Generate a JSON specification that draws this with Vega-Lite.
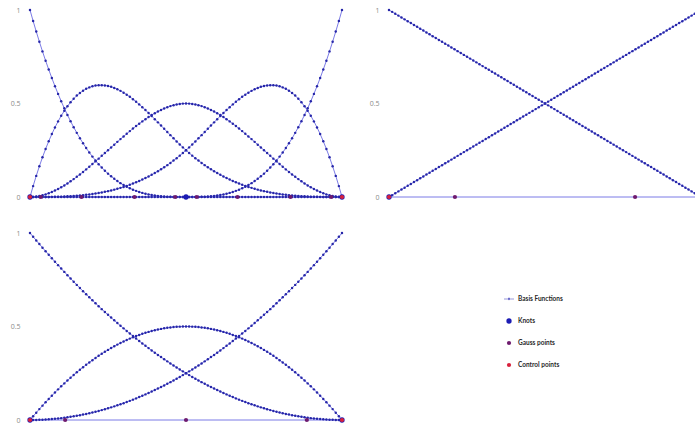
{
  "$schema": "https://vega.github.io/schema/vega-lite/v6.json",
  "padding": {"left": 10, "top": 6, "right": 0, "bottom": 0},
  "background": "white",
  "config": {
    "view": {"stroke": null},
    "axis": {"grid": false, "ticks": false, "domain": false, "title": null, "labelFont": "Open Sans", "labelFontSize": 7, "labelColor": "#8a8a8a", "labelPadding": 10}
  },
  "datasets": {
    "basis": [
      {"x":0,"a0":1,"a1":0,"a2":0,"a3":0,"a4":0,"b0":1,"b1":0,"c0":1,"c1":0,"c2":0},
      {"x":0.01,"a0":0.9412,"a1":0.0582,"a2":0.0006,"a3":0,"a4":0,"b0":0.99,"b1":0.01,"c0":0.9801,"c1":0.0198,"c2":0.0001},
      {"x":0.02,"a0":0.8847,"a1":0.1129,"a2":0.0023,"a3":0,"a4":0,"b0":0.98,"b1":0.02,"c0":0.9604,"c1":0.0392,"c2":0.0004},
      {"x":0.03,"a0":0.8306,"a1":0.1642,"a2":0.0052,"a3":0.0001,"a4":0,"b0":0.97,"b1":0.03,"c0":0.9409,"c1":0.0582,"c2":0.0009},
      {"x":0.04,"a0":0.7787,"a1":0.2121,"a2":0.0091,"a3":0.0001,"a4":0,"b0":0.96,"b1":0.04,"c0":0.9216,"c1":0.0768,"c2":0.0016},
      {"x":0.05,"a0":0.729,"a1":0.2568,"a2":0.014,"a3":0.0003,"a4":0,"b0":0.95,"b1":0.05,"c0":0.9025,"c1":0.095,"c2":0.0025},
      {"x":0.06,"a0":0.6815,"a1":0.2982,"a2":0.0199,"a3":0.0004,"a4":0,"b0":0.94,"b1":0.06,"c0":0.8836,"c1":0.1128,"c2":0.0036},
      {"x":0.07,"a0":0.6361,"a1":0.3366,"a2":0.0267,"a3":0.0007,"a4":0,"b0":0.93,"b1":0.07,"c0":0.8649,"c1":0.1302,"c2":0.0049},
      {"x":0.08,"a0":0.5927,"a1":0.372,"a2":0.0343,"a3":0.001,"a4":0,"b0":0.92,"b1":0.08,"c0":0.8464,"c1":0.1472,"c2":0.0064},
      {"x":0.09,"a0":0.5514,"a1":0.4044,"a2":0.0428,"a3":0.0015,"a4":0,"b0":0.91,"b1":0.09,"c0":0.8281,"c1":0.1638,"c2":0.0081},
      {"x":0.1,"a0":0.512,"a1":0.434,"a2":0.052,"a3":0.002,"a4":0,"b0":0.9,"b1":0.1,"c0":0.81,"c1":0.18,"c2":0.01},
      {"x":0.11,"a0":0.4746,"a1":0.4608,"a2":0.062,"a3":0.0027,"a4":0,"b0":0.89,"b1":0.11,"c0":0.7921,"c1":0.1958,"c2":0.0121},
      {"x":0.12,"a0":0.439,"a1":0.485,"a2":0.0726,"a3":0.0035,"a4":0,"b0":0.88,"b1":0.12,"c0":0.7744,"c1":0.2112,"c2":0.0144},
      {"x":0.13,"a0":0.4052,"a1":0.5066,"a2":0.0838,"a3":0.0044,"a4":0,"b0":0.87,"b1":0.13,"c0":0.7569,"c1":0.2262,"c2":0.0169},
      {"x":0.14,"a0":0.3732,"a1":0.5256,"a2":0.0956,"a3":0.0055,"a4":0,"b0":0.86,"b1":0.14,"c0":0.7396,"c1":0.2408,"c2":0.0196},
      {"x":0.15,"a0":0.343,"a1":0.5423,"a2":0.108,"a3":0.0068,"a4":0,"b0":0.85,"b1":0.15,"c0":0.7225,"c1":0.255,"c2":0.0225},
      {"x":0.16,"a0":0.3144,"a1":0.5565,"a2":0.1208,"a3":0.0082,"a4":0,"b0":0.84,"b1":0.16,"c0":0.7056,"c1":0.2688,"c2":0.0256},
      {"x":0.17,"a0":0.2875,"a1":0.5686,"a2":0.1341,"a3":0.0098,"a4":0,"b0":0.83,"b1":0.17,"c0":0.6889,"c1":0.2822,"c2":0.0289},
      {"x":0.18,"a0":0.2621,"a1":0.5784,"a2":0.1477,"a3":0.0117,"a4":0,"b0":0.82,"b1":0.18,"c0":0.6724,"c1":0.2952,"c2":0.0324},
      {"x":0.19,"a0":0.2383,"a1":0.5862,"a2":0.1617,"a3":0.0137,"a4":0,"b0":0.81,"b1":0.19,"c0":0.6561,"c1":0.3078,"c2":0.0361},
      {"x":0.2,"a0":0.216,"a1":0.592,"a2":0.176,"a3":0.016,"a4":0,"b0":0.8,"b1":0.2,"c0":0.64,"c1":0.32,"c2":0.04},
      {"x":0.21,"a0":0.1951,"a1":0.5959,"a2":0.1905,"a3":0.0185,"a4":0,"b0":0.79,"b1":0.21,"c0":0.6241,"c1":0.3318,"c2":0.0441},
      {"x":0.22,"a0":0.1756,"a1":0.5979,"a2":0.2052,"a3":0.0213,"a4":0,"b0":0.78,"b1":0.22,"c0":0.6084,"c1":0.3432,"c2":0.0484},
      {"x":0.23,"a0":0.1575,"a1":0.5981,"a2":0.2201,"a3":0.0243,"a4":0,"b0":0.77,"b1":0.23,"c0":0.5929,"c1":0.3542,"c2":0.0529},
      {"x":0.24,"a0":0.1406,"a1":0.5967,"a2":0.235,"a3":0.0276,"a4":0,"b0":0.76,"b1":0.24,"c0":0.5776,"c1":0.3648,"c2":0.0576},
      {"x":0.25,"a0":0.125,"a1":0.5938,"a2":0.25,"a3":0.0313,"a4":0,"b0":0.75,"b1":0.25,"c0":0.5625,"c1":0.375,"c2":0.0625},
      {"x":0.26,"a0":0.1106,"a1":0.5893,"a2":0.265,"a3":0.0352,"a4":0,"b0":0.74,"b1":0.26,"c0":0.5476,"c1":0.3848,"c2":0.0676},
      {"x":0.27,"a0":0.0973,"a1":0.5834,"a2":0.2799,"a3":0.0394,"a4":0,"b0":0.73,"b1":0.27,"c0":0.5329,"c1":0.3942,"c2":0.0729},
      {"x":0.28,"a0":0.0852,"a1":0.5761,"a2":0.2948,"a3":0.0439,"a4":0,"b0":0.72,"b1":0.28,"c0":0.5184,"c1":0.4032,"c2":0.0784},
      {"x":0.29,"a0":0.0741,"a1":0.5676,"a2":0.3095,"a3":0.0488,"a4":0,"b0":0.71,"b1":0.29,"c0":0.5041,"c1":0.4118,"c2":0.0841},
      {"x":0.3,"a0":0.064,"a1":0.558,"a2":0.324,"a3":0.054,"a4":0,"b0":0.7,"b1":0.3,"c0":0.49,"c1":0.42,"c2":0.09},
      {"x":0.31,"a0":0.0549,"a1":0.5473,"a2":0.3383,"a3":0.0596,"a4":0,"b0":0.69,"b1":0.31,"c0":0.4761,"c1":0.4278,"c2":0.0961},
      {"x":0.32,"a0":0.0467,"a1":0.5356,"a2":0.3523,"a3":0.0655,"a4":0,"b0":0.68,"b1":0.32,"c0":0.4624,"c1":0.4352,"c2":0.1024},
      {"x":0.33,"a0":0.0393,"a1":0.5229,"a2":0.3659,"a3":0.0719,"a4":0,"b0":0.67,"b1":0.33,"c0":0.4489,"c1":0.4422,"c2":0.1089},
      {"x":0.34,"a0":0.0328,"a1":0.5095,"a2":0.3792,"a3":0.0786,"a4":0,"b0":0.66,"b1":0.34,"c0":0.4356,"c1":0.4488,"c2":0.1156},
      {"x":0.35,"a0":0.027,"a1":0.4953,"a2":0.392,"a3":0.0858,"a4":0,"b0":0.65,"b1":0.35,"c0":0.4225,"c1":0.455,"c2":0.1225},
      {"x":0.36,"a0":0.022,"a1":0.4804,"a2":0.4044,"a3":0.0933,"a4":0,"b0":0.64,"b1":0.36,"c0":0.4096,"c1":0.4608,"c2":0.1296},
      {"x":0.37,"a0":0.0176,"a1":0.4649,"a2":0.4162,"a3":0.1013,"a4":0,"b0":0.63,"b1":0.37,"c0":0.3969,"c1":0.4662,"c2":0.1369},
      {"x":0.38,"a0":0.0138,"a1":0.449,"a2":0.4274,"a3":0.1097,"a4":0,"b0":0.62,"b1":0.38,"c0":0.3844,"c1":0.4712,"c2":0.1444},
      {"x":0.39,"a0":0.0106,"a1":0.4327,"a2":0.438,"a3":0.1186,"a4":0,"b0":0.61,"b1":0.39,"c0":0.3721,"c1":0.4758,"c2":0.1521},
      {"x":0.4,"a0":0.008,"a1":0.416,"a2":0.448,"a3":0.128,"a4":0,"b0":0.6,"b1":0.4,"c0":0.36,"c1":0.48,"c2":0.16},
      {"x":0.41,"a0":0.0058,"a1":0.3991,"a2":0.4572,"a3":0.1378,"a4":0,"b0":0.59,"b1":0.41,"c0":0.3481,"c1":0.4838,"c2":0.1681},
      {"x":0.42,"a0":0.0041,"a1":0.382,"a2":0.4657,"a3":0.1482,"a4":0,"b0":0.58,"b1":0.42,"c0":0.3364,"c1":0.4872,"c2":0.1764},
      {"x":0.43,"a0":0.0027,"a1":0.3649,"a2":0.4733,"a3":0.159,"a4":0,"b0":0.57,"b1":0.43,"c0":0.3249,"c1":0.4902,"c2":0.1849},
      {"x":0.44,"a0":0.0017,"a1":0.3478,"a2":0.4801,"a3":0.1704,"a4":0,"b0":0.56,"b1":0.44,"c0":0.3136,"c1":0.4928,"c2":0.1936},
      {"x":0.45,"a0":0.001,"a1":0.3308,"a2":0.486,"a3":0.1823,"a4":0,"b0":0.55,"b1":0.45,"c0":0.3025,"c1":0.495,"c2":0.2025},
      {"x":0.46,"a0":0.0005,"a1":0.3139,"a2":0.4909,"a3":0.1947,"a4":0,"b0":0.54,"b1":0.46,"c0":0.2916,"c1":0.4968,"c2":0.2116},
      {"x":0.47,"a0":0.0002,"a1":0.2973,"a2":0.4948,"a3":0.2076,"a4":0,"b0":0.53,"b1":0.47,"c0":0.2809,"c1":0.4982,"c2":0.2209},
      {"x":0.48,"a0":0.0001,"a1":0.2811,"a2":0.4977,"a3":0.2212,"a4":0,"b0":0.52,"b1":0.48,"c0":0.2704,"c1":0.4992,"c2":0.2304},
      {"x":0.49,"a0":0,"a1":0.2653,"a2":0.4994,"a3":0.2353,"a4":0,"b0":0.51,"b1":0.49,"c0":0.2601,"c1":0.4998,"c2":0.2401},
      {"x":0.5,"a0":0,"a1":0.25,"a2":0.5,"a3":0.25,"a4":0,"b0":0.5,"b1":0.5,"c0":0.25,"c1":0.5,"c2":0.25},
      {"x":0.51,"a0":0,"a1":0.2353,"a2":0.4994,"a3":0.2653,"a4":0,"b0":0.49,"b1":0.51,"c0":0.2401,"c1":0.4998,"c2":0.2601},
      {"x":0.52,"a0":0,"a1":0.2212,"a2":0.4977,"a3":0.2811,"a4":0.0001,"b0":0.48,"b1":0.52,"c0":0.2304,"c1":0.4992,"c2":0.2704},
      {"x":0.53,"a0":0,"a1":0.2076,"a2":0.4948,"a3":0.2973,"a4":0.0002,"b0":0.47,"b1":0.53,"c0":0.2209,"c1":0.4982,"c2":0.2809},
      {"x":0.54,"a0":0,"a1":0.1947,"a2":0.4909,"a3":0.3139,"a4":0.0005,"b0":0.46,"b1":0.54,"c0":0.2116,"c1":0.4968,"c2":0.2916},
      {"x":0.55,"a0":0,"a1":0.1823,"a2":0.486,"a3":0.3308,"a4":0.001,"b0":0.45,"b1":0.55,"c0":0.2025,"c1":0.495,"c2":0.3025},
      {"x":0.56,"a0":0,"a1":0.1704,"a2":0.4801,"a3":0.3478,"a4":0.0017,"b0":0.44,"b1":0.56,"c0":0.1936,"c1":0.4928,"c2":0.3136},
      {"x":0.57,"a0":0,"a1":0.159,"a2":0.4733,"a3":0.3649,"a4":0.0027,"b0":0.43,"b1":0.57,"c0":0.1849,"c1":0.4902,"c2":0.3249},
      {"x":0.58,"a0":0,"a1":0.1482,"a2":0.4657,"a3":0.382,"a4":0.0041,"b0":0.42,"b1":0.58,"c0":0.1764,"c1":0.4872,"c2":0.3364},
      {"x":0.59,"a0":0,"a1":0.1378,"a2":0.4572,"a3":0.3991,"a4":0.0058,"b0":0.41,"b1":0.59,"c0":0.1681,"c1":0.4838,"c2":0.3481},
      {"x":0.6,"a0":0,"a1":0.128,"a2":0.448,"a3":0.416,"a4":0.008,"b0":0.4,"b1":0.6,"c0":0.16,"c1":0.48,"c2":0.36},
      {"x":0.61,"a0":0,"a1":0.1186,"a2":0.438,"a3":0.4327,"a4":0.0106,"b0":0.39,"b1":0.61,"c0":0.1521,"c1":0.4758,"c2":0.3721},
      {"x":0.62,"a0":0,"a1":0.1097,"a2":0.4274,"a3":0.449,"a4":0.0138,"b0":0.38,"b1":0.62,"c0":0.1444,"c1":0.4712,"c2":0.3844},
      {"x":0.63,"a0":0,"a1":0.1013,"a2":0.4162,"a3":0.4649,"a4":0.0176,"b0":0.37,"b1":0.63,"c0":0.1369,"c1":0.4662,"c2":0.3969},
      {"x":0.64,"a0":0,"a1":0.0933,"a2":0.4044,"a3":0.4804,"a4":0.022,"b0":0.36,"b1":0.64,"c0":0.1296,"c1":0.4608,"c2":0.4096},
      {"x":0.65,"a0":0,"a1":0.0858,"a2":0.392,"a3":0.4953,"a4":0.027,"b0":0.35,"b1":0.65,"c0":0.1225,"c1":0.455,"c2":0.4225},
      {"x":0.66,"a0":0,"a1":0.0786,"a2":0.3792,"a3":0.5095,"a4":0.0328,"b0":0.34,"b1":0.66,"c0":0.1156,"c1":0.4488,"c2":0.4356},
      {"x":0.67,"a0":0,"a1":0.0719,"a2":0.3659,"a3":0.5229,"a4":0.0393,"b0":0.33,"b1":0.67,"c0":0.1089,"c1":0.4422,"c2":0.4489},
      {"x":0.68,"a0":0,"a1":0.0655,"a2":0.3523,"a3":0.5356,"a4":0.0467,"b0":0.32,"b1":0.68,"c0":0.1024,"c1":0.4352,"c2":0.4624},
      {"x":0.69,"a0":0,"a1":0.0596,"a2":0.3383,"a3":0.5473,"a4":0.0549,"b0":0.31,"b1":0.69,"c0":0.0961,"c1":0.4278,"c2":0.4761},
      {"x":0.7,"a0":0,"a1":0.054,"a2":0.324,"a3":0.558,"a4":0.064,"b0":0.3,"b1":0.7,"c0":0.09,"c1":0.42,"c2":0.49},
      {"x":0.71,"a0":0,"a1":0.0488,"a2":0.3095,"a3":0.5676,"a4":0.0741,"b0":0.29,"b1":0.71,"c0":0.0841,"c1":0.4118,"c2":0.5041},
      {"x":0.72,"a0":0,"a1":0.0439,"a2":0.2948,"a3":0.5761,"a4":0.0852,"b0":0.28,"b1":0.72,"c0":0.0784,"c1":0.4032,"c2":0.5184},
      {"x":0.73,"a0":0,"a1":0.0394,"a2":0.2799,"a3":0.5834,"a4":0.0973,"b0":0.27,"b1":0.73,"c0":0.0729,"c1":0.3942,"c2":0.5329},
      {"x":0.74,"a0":0,"a1":0.0352,"a2":0.265,"a3":0.5893,"a4":0.1106,"b0":0.26,"b1":0.74,"c0":0.0676,"c1":0.3848,"c2":0.5476},
      {"x":0.75,"a0":0,"a1":0.0313,"a2":0.25,"a3":0.5938,"a4":0.125,"b0":0.25,"b1":0.75,"c0":0.0625,"c1":0.375,"c2":0.5625},
      {"x":0.76,"a0":0,"a1":0.0276,"a2":0.235,"a3":0.5967,"a4":0.1406,"b0":0.24,"b1":0.76,"c0":0.0576,"c1":0.3648,"c2":0.5776},
      {"x":0.77,"a0":0,"a1":0.0243,"a2":0.2201,"a3":0.5981,"a4":0.1575,"b0":0.23,"b1":0.77,"c0":0.0529,"c1":0.3542,"c2":0.5929},
      {"x":0.78,"a0":0,"a1":0.0213,"a2":0.2052,"a3":0.5979,"a4":0.1756,"b0":0.22,"b1":0.78,"c0":0.0484,"c1":0.3432,"c2":0.6084},
      {"x":0.79,"a0":0,"a1":0.0185,"a2":0.1905,"a3":0.5959,"a4":0.1951,"b0":0.21,"b1":0.79,"c0":0.0441,"c1":0.3318,"c2":0.6241},
      {"x":0.8,"a0":0,"a1":0.016,"a2":0.176,"a3":0.592,"a4":0.216,"b0":0.2,"b1":0.8,"c0":0.04,"c1":0.32,"c2":0.64},
      {"x":0.81,"a0":0,"a1":0.0137,"a2":0.1617,"a3":0.5862,"a4":0.2383,"b0":0.19,"b1":0.81,"c0":0.0361,"c1":0.3078,"c2":0.6561},
      {"x":0.82,"a0":0,"a1":0.0117,"a2":0.1477,"a3":0.5784,"a4":0.2621,"b0":0.18,"b1":0.82,"c0":0.0324,"c1":0.2952,"c2":0.6724},
      {"x":0.83,"a0":0,"a1":0.0098,"a2":0.1341,"a3":0.5686,"a4":0.2875,"b0":0.17,"b1":0.83,"c0":0.0289,"c1":0.2822,"c2":0.6889},
      {"x":0.84,"a0":0,"a1":0.0082,"a2":0.1208,"a3":0.5565,"a4":0.3144,"b0":0.16,"b1":0.84,"c0":0.0256,"c1":0.2688,"c2":0.7056},
      {"x":0.85,"a0":0,"a1":0.0068,"a2":0.108,"a3":0.5423,"a4":0.343,"b0":0.15,"b1":0.85,"c0":0.0225,"c1":0.255,"c2":0.7225},
      {"x":0.86,"a0":0,"a1":0.0055,"a2":0.0956,"a3":0.5256,"a4":0.3732,"b0":0.14,"b1":0.86,"c0":0.0196,"c1":0.2408,"c2":0.7396},
      {"x":0.87,"a0":0,"a1":0.0044,"a2":0.0838,"a3":0.5066,"a4":0.4052,"b0":0.13,"b1":0.87,"c0":0.0169,"c1":0.2262,"c2":0.7569},
      {"x":0.88,"a0":0,"a1":0.0035,"a2":0.0726,"a3":0.485,"a4":0.439,"b0":0.12,"b1":0.88,"c0":0.0144,"c1":0.2112,"c2":0.7744},
      {"x":0.89,"a0":0,"a1":0.0027,"a2":0.062,"a3":0.4608,"a4":0.4746,"b0":0.11,"b1":0.89,"c0":0.0121,"c1":0.1958,"c2":0.7921},
      {"x":0.9,"a0":0,"a1":0.002,"a2":0.052,"a3":0.434,"a4":0.512,"b0":0.1,"b1":0.9,"c0":0.01,"c1":0.18,"c2":0.81},
      {"x":0.91,"a0":0,"a1":0.0015,"a2":0.0428,"a3":0.4044,"a4":0.5514,"b0":0.09,"b1":0.91,"c0":0.0081,"c1":0.1638,"c2":0.8281},
      {"x":0.92,"a0":0,"a1":0.001,"a2":0.0343,"a3":0.372,"a4":0.5927,"b0":0.08,"b1":0.92,"c0":0.0064,"c1":0.1472,"c2":0.8464},
      {"x":0.93,"a0":0,"a1":0.0007,"a2":0.0267,"a3":0.3366,"a4":0.6361,"b0":0.07,"b1":0.93,"c0":0.0049,"c1":0.1302,"c2":0.8649},
      {"x":0.94,"a0":0,"a1":0.0004,"a2":0.0199,"a3":0.2982,"a4":0.6815,"b0":0.06,"b1":0.94,"c0":0.0036,"c1":0.1128,"c2":0.8836},
      {"x":0.95,"a0":0,"a1":0.0003,"a2":0.014,"a3":0.2568,"a4":0.729,"b0":0.05,"b1":0.95,"c0":0.0025,"c1":0.095,"c2":0.9025},
      {"x":0.96,"a0":0,"a1":0.0001,"a2":0.0091,"a3":0.2121,"a4":0.7787,"b0":0.04,"b1":0.96,"c0":0.0016,"c1":0.0768,"c2":0.9216},
      {"x":0.97,"a0":0,"a1":0.0001,"a2":0.0052,"a3":0.1642,"a4":0.8306,"b0":0.03,"b1":0.97,"c0":0.0009,"c1":0.0582,"c2":0.9409},
      {"x":0.98,"a0":0,"a1":0,"a2":0.0023,"a3":0.1129,"a4":0.8847,"b0":0.02,"b1":0.98,"c0":0.0004,"c1":0.0392,"c2":0.9604},
      {"x":0.99,"a0":0,"a1":0,"a2":0.0006,"a3":0.0582,"a4":0.9412,"b0":0.01,"b1":0.99,"c0":0.0001,"c1":0.0198,"c2":0.9801},
      {"x":1,"a0":0,"a1":0,"a2":0,"a3":0,"a4":1,"b0":0,"b1":1,"c0":0,"c1":0,"c2":1}
    ],
    "baseline": [{"x0": 0, "x1": 1, "y": 0}],
    "cubicMarks": [
      {"x":0,"y":0,"kind":"Knots"},{"x":0.5,"y":0,"kind":"Knots"},{"x":1,"y":0,"kind":"Knots"},
      {"x":0.0347,"y":0,"kind":"Gauss points"},{"x":0.165,"y":0,"kind":"Gauss points"},{"x":0.335,"y":0,"kind":"Gauss points"},{"x":0.4653,"y":0,"kind":"Gauss points"},
      {"x":0.5347,"y":0,"kind":"Gauss points"},{"x":0.665,"y":0,"kind":"Gauss points"},{"x":0.835,"y":0,"kind":"Gauss points"},{"x":0.9653,"y":0,"kind":"Gauss points"},
      {"x":0,"y":0,"kind":"Control points"},{"x":1,"y":0,"kind":"Control points"}
    ],
    "linearMarks": [
      {"x":0,"y":0,"kind":"Knots"},{"x":1,"y":0,"kind":"Knots"},
      {"x":0.2113,"y":0,"kind":"Gauss points"},{"x":0.7887,"y":0,"kind":"Gauss points"},
      {"x":0,"y":0,"kind":"Control points"},{"x":1,"y":0,"kind":"Control points"}
    ],
    "quadMarks": [
      {"x":0,"y":0,"kind":"Knots"},{"x":1,"y":0,"kind":"Knots"},
      {"x":0.1127,"y":0,"kind":"Gauss points"},{"x":0.5,"y":0,"kind":"Gauss points"},{"x":0.8873,"y":0,"kind":"Gauss points"},
      {"x":0,"y":0,"kind":"Control points"},{"x":1,"y":0,"kind":"Control points"}
    ]
  },
  "columns": 2,
  "bounds": "flush",
  "spacing": {"row": 36, "column": 47},
  "concat": [
    {
      "width": 312, "height": 187,
      "layer": [
        {
          "data": {"name": "baseline"},
          "mark": {"type": "rule", "color": "#7b7be6", "strokeWidth": 1},
          "encoding": {"x": {"field": "x0", "type": "quantitative"}, "x2": {"field": "x1"}, "y": {"field": "y", "type": "quantitative"}}
        },
        {
          "data": {"name": "basis"},
          "transform": [{"fold": ["a0", "a1", "a2", "a3", "a4"], "as": ["curve", "y"]}],
          "mark": {"type": "line", "color": "#7b7be6", "strokeWidth": 1, "point": {"filled": true, "size": 6, "color": "#2626a8"}},
          "encoding": {
            "x": {"field": "x", "type": "quantitative", "scale": {"domain": [0, 1]}, "axis": null},
            "y": {"field": "y", "type": "quantitative", "scale": {"domain": [0, 1]}, "axis": {"values": [0, 0.5, 1], "format": "~g"}},
            "detail": {"field": "curve"}
          }
        },
        {
          "data": {"name": "cubicMarks"},
          "mark": {"type": "point", "filled": true, "opacity": 1},
          "encoding": {
            "x": {"field": "x", "type": "quantitative"},
            "y": {"field": "y", "type": "quantitative"},
            "color": {
              "field": "kind", "type": "nominal",
              "scale": {"domain": ["Basis Functions", "Knots", "Gauss points", "Control points"], "range": ["#3434b8", "#1c1cb4", "#6e1a6e", "#d8203c"]},
              "legend": {
                "title": null, "orient": "none", "legendX": 473, "legendY": 284,
                "labelFont": "Lato", "labelFontSize": 6.5, "labelFontWeight": "bold", "labelColor": "#2a2a2a",
                "labelOffset": 3, "rowPadding": 12, "clipHeight": 10
              }
            },
            "shape": {
              "field": "kind", "type": "nominal",
              "scale": {"domain": ["Basis Functions", "Knots", "Gauss points", "Control points"], "range": ["M-1,-0.07L1,-0.07L1,0.07L-1,0.07ZM-0.24,0A0.24,0.24,0,1,0,0.24,0A0.24,0.24,0,1,0,-0.24,0Z", "circle", "circle", "circle"]}
            },
            "size": {
              "field": "kind", "type": "nominal",
              "scale": {"type": "ordinal", "domain": ["Basis Functions", "Knots", "Gauss points", "Control points"], "range": [100, 28, 18, 18]}
            }
          }
        }
      ]
    },
    {
      "width": 312, "height": 187,
      "layer": [
        {
          "data": {"name": "baseline"},
          "mark": {"type": "rule", "color": "#7b7be6", "strokeWidth": 1},
          "encoding": {"x": {"field": "x0", "type": "quantitative"}, "x2": {"field": "x1"}, "y": {"field": "y", "type": "quantitative"}}
        },
        {
          "data": {"name": "basis"},
          "transform": [{"fold": ["b0", "b1"], "as": ["curve", "y"]}],
          "mark": {"type": "line", "color": "#7b7be6", "strokeWidth": 1, "point": {"filled": true, "size": 6, "color": "#2626a8"}},
          "encoding": {
            "x": {"field": "x", "type": "quantitative", "scale": {"domain": [0, 1]}, "axis": null},
            "y": {"field": "y", "type": "quantitative", "scale": {"domain": [0, 1]}, "axis": {"values": [0, 0.5, 1], "format": "~g"}},
            "detail": {"field": "curve"}
          }
        },
        {
          "data": {"name": "linearMarks"},
          "mark": {"type": "point", "filled": true, "opacity": 1},
          "encoding": {
            "x": {"field": "x", "type": "quantitative"},
            "y": {"field": "y", "type": "quantitative"},
            "color": {
              "field": "kind", "type": "nominal",
              "scale": {"domain": ["Basis Functions", "Knots", "Gauss points", "Control points"], "range": ["#3434b8", "#1c1cb4", "#6e1a6e", "#d8203c"]}
            },
            "shape": {
              "field": "kind", "type": "nominal",
              "scale": {"domain": ["Basis Functions", "Knots", "Gauss points", "Control points"], "range": ["M-1,-0.07L1,-0.07L1,0.07L-1,0.07ZM-0.24,0A0.24,0.24,0,1,0,0.24,0A0.24,0.24,0,1,0,-0.24,0Z", "circle", "circle", "circle"]}
            },
            "size": {
              "field": "kind", "type": "nominal",
              "scale": {"type": "ordinal", "domain": ["Basis Functions", "Knots", "Gauss points", "Control points"], "range": [100, 28, 18, 18]}
            }
          }
        }
      ]
    },
    {
      "width": 312, "height": 187,
      "layer": [
        {
          "data": {"name": "baseline"},
          "mark": {"type": "rule", "color": "#7b7be6", "strokeWidth": 1},
          "encoding": {"x": {"field": "x0", "type": "quantitative"}, "x2": {"field": "x1"}, "y": {"field": "y", "type": "quantitative"}}
        },
        {
          "data": {"name": "basis"},
          "transform": [{"fold": ["c0", "c1", "c2"], "as": ["curve", "y"]}],
          "mark": {"type": "line", "color": "#7b7be6", "strokeWidth": 1, "point": {"filled": true, "size": 6, "color": "#2626a8"}},
          "encoding": {
            "x": {"field": "x", "type": "quantitative", "scale": {"domain": [0, 1]}, "axis": null},
            "y": {"field": "y", "type": "quantitative", "scale": {"domain": [0, 1]}, "axis": {"values": [0, 0.5, 1], "format": "~g"}},
            "detail": {"field": "curve"}
          }
        },
        {
          "data": {"name": "quadMarks"},
          "mark": {"type": "point", "filled": true, "opacity": 1},
          "encoding": {
            "x": {"field": "x", "type": "quantitative"},
            "y": {"field": "y", "type": "quantitative"},
            "color": {
              "field": "kind", "type": "nominal",
              "scale": {"domain": ["Basis Functions", "Knots", "Gauss points", "Control points"], "range": ["#3434b8", "#1c1cb4", "#6e1a6e", "#d8203c"]}
            },
            "shape": {
              "field": "kind", "type": "nominal",
              "scale": {"domain": ["Basis Functions", "Knots", "Gauss points", "Control points"], "range": ["M-1,-0.07L1,-0.07L1,0.07L-1,0.07ZM-0.24,0A0.24,0.24,0,1,0,0.24,0A0.24,0.24,0,1,0,-0.24,0Z", "circle", "circle", "circle"]}
            },
            "size": {
              "field": "kind", "type": "nominal",
              "scale": {"type": "ordinal", "domain": ["Basis Functions", "Knots", "Gauss points", "Control points"], "range": [100, 28, 18, 18]}
            }
          }
        }
      ]
    }
  ]
}
